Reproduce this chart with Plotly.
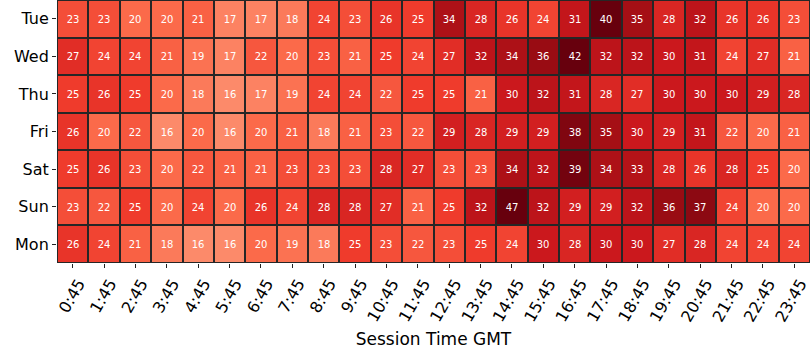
import plotly.graph_objects as go

days = ["Tue", "Wed", "Thu", "Fri", "Sat", "Sun", "Mon"]
times = [f"{h}:45" for h in range(24)]

tue = [23, 23, 20, 20, 21, 17, 17, 18, 24, 23, 26, 25, 34, 28, 26, 24, 31, 40, 35, 28, 32, 26, 26, 23]
wed = [27, 24, 24, 21, 19, 17, 22, 20, 23, 21, 25, 24, 27, 32, 34, 36, 42, 32, 32, 30, 31, 24, 27, 21]
thu = [25, 26, 25, 20, 18, 16, 17, 19, 24, 24, 22, 25, 25, 21, 30, 32, 31, 28, 27, 30, 30, 30, 29, 28]
fri = [26, 20, 22, 16, 20, 16, 20, 21, 18, 21, 23, 22, 29, 28, 29, 29, 38, 35, 30, 29, 31, 22, 20, 21]
sat = [25, 26, 23, 20, 22, 21, 21, 23, 23, 23, 28, 27, 23, 23, 34, 32, 39, 34, 33, 28, 26, 28, 25, 20]
sun = [23, 22, 25, 20, 24, 20, 26, 24, 28, 28, 27, 21, 25, 32, 47, 32, 29, 29, 32, 36, 37, 24, 20, 20]
mon = [26, 24, 21, 18, 16, 16, 20, 19, 18, 25, 23, 22, 23, 25, 24, 30, 28, 30, 30, 27, 28, 24, 24, 24]

z = [tue, wed, thu, fri, sat, sun, mon]

reds = [
    [0.0, "#fff5f0"], [0.125, "#fee0d2"], [0.25, "#fcbba1"], [0.375, "#fc9272"],
    [0.5, "#fb6a4a"], [0.625, "#ef3b2c"], [0.75, "#cb181d"], [0.875, "#a50f15"],
    [1.0, "#67000d"],
]

fig = go.Figure(go.Heatmap(
    z=z, x=times, y=days,
    colorscale=reds, zmin=0, zmax=40, showscale=False,
    xgap=2, ygap=2,
    texttemplate="%{z}",
    textfont=dict(family="DejaVu Sans", size=10, color="white"),
    hoverinfo="skip",
))

fig.update_layout(
    width=810, height=360,
    margin=dict(l=57, r=0, t=0, b=97),
    paper_bgcolor="white",
    plot_bgcolor="#262626",
    font=dict(family="DejaVu Sans", color="black"),
)
fig.update_xaxes(
    automargin=False,
    tickangle=-60, tickfont=dict(size=16), ticks="outside", ticklen=4,
    ticklabelshift=6,
    tickcolor="#222", showgrid=False, zeroline=False,
    title=dict(text="Session Time GMT", font=dict(size=17), standoff=8),
)
fig.update_yaxes(
    automargin=False,
    autorange="reversed", tickfont=dict(size=16), ticks="outside", ticklen=4,
    tickcolor="#222", showgrid=False, zeroline=False,
)

fig.write_html("out.html", config={"displayModeBar": False},
               post_script="document.body.style.margin='0';document.body.style.overflow='hidden';")
